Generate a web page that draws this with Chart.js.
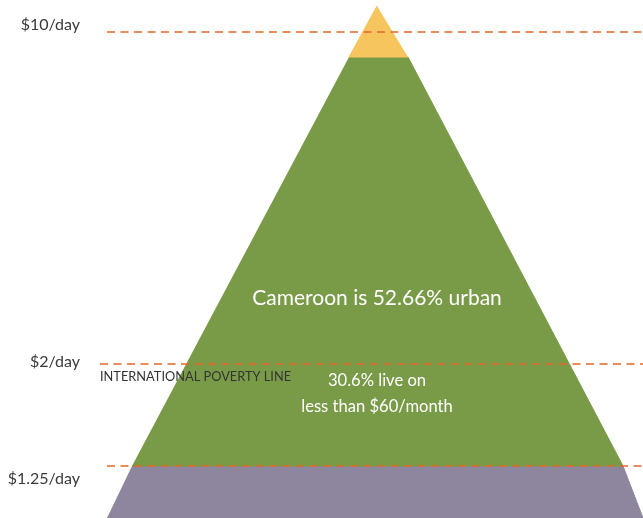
<!DOCTYPE html>
<html>
<head>
<meta charset="utf-8">
<script src="https://cdn.jsdelivr.net/npm/chart.js@4/dist/chart.umd.min.js"></script>
<style>
  html, body { margin: 0; padding: 0; background: #fff; }
  #wrap { width: 643px; height: 518px; position: relative; }
</style>
</head>
<body>
<div id="wrap"><canvas id="pyramid"></canvas></div>
<script>
// income levels on the left axis and where their dashed lines sit
const levelLabels = ["$10/day", "$2/day", "$1.25/day"];
const labelY = [493, 156, 39];
const lineY = [486, 154, 52];
const lineStartX = [-270, -277, -270];
const lineEndX = 266;

// pyramid bands (x = offset from the apex, y = height above the base)
const topBandX = [0, -28, 31];
const topBandY = [512, 461, 461];
const midBandX = [-28, 31, 246, -245];
const midBandY = [461, 461, 52, 52];
const lowBandX = [-245, 246, 266, -270];
const lowBandY = [52, 52, 0, 0];

const FONT = "Lato, 'Open Sans', sans-serif";
const pts = (xs, ys) => xs.map((x, i) => ({ x: x, y: ys[i] }));

const band = (xs, ys, color) => ({
  data: pts(xs, ys),
  showLine: true,
  fill: "shape",
  backgroundColor: color,
  borderColor: color,
  borderWidth: 1,
  pointRadius: 0,
  order: 2,
});

const dashed = lineY.map((y, i) => ({
  data: [{ x: lineStartX[i], y: y }, { x: lineEndX, y: y }],
  showLine: true,
  fill: false,
  borderColor: "#E3672A",
  borderWidth: 1.5,
  borderDash: [8, 5.5],
  pointRadius: 0,
  order: 1,
}));

// captions inside / beside the pyramid
const notes = {
  id: "notes",
  afterDatasetsDraw(chart) {
    const { ctx, scales: { x, y } } = chart;
    ctx.save();
    ctx.textBaseline = "middle";
    ctx.fillStyle = "#333";
    ctx.textAlign = "left";
    ctx.font = "12.8px " + FONT;
    ctx.fillText("INTERNATIONAL POVERTY LINE", x.getPixelForValue(-277), y.getPixelForValue(141));
    ctx.fillStyle = "#fff";
    ctx.textAlign = "center";
    ctx.font = "21px " + FONT;
    ctx.fillText("Cameroon is 52.66% urban", x.getPixelForValue(0), y.getPixelForValue(220));
    ctx.font = "16.6px " + FONT;
    ctx.fillText("30.6% live on", x.getPixelForValue(0), y.getPixelForValue(137));
    ctx.fillText("less than $60/month", x.getPixelForValue(0), y.getPixelForValue(111));
    ctx.restore();
  },
};

new Chart(document.getElementById("pyramid"), {
  type: "scatter",
  data: {
    datasets: [
      band(topBandX, topBandY, "#F7C55D"),
      band(midBandX, midBandY, "#799B48"),
      band(lowBandX, lowBandY, "#8E869F"),
      ...dashed,
    ],
  },
  options: {
    responsive: true,
    maintainAspectRatio: false,
    animation: false,
    layout: { padding: 0 },
    plugins: { legend: { display: false }, tooltip: { enabled: false } },
    scales: {
      x: { type: "linear", display: false, min: -287, max: 266 },
      y: {
        type: "linear",
        min: 0,
        max: 518,
        grid: { display: false },
        border: { display: false },
        ticks: {
          padding: 2,
          color: "#3a3a3a",
          font: { family: FONT, size: 16 },
          callback: (v) => levelLabels[labelY.indexOf(v)],
        },
        afterBuildTicks: (s) => { s.ticks = labelY.map((v) => ({ value: v })); },
        afterFit: (s) => { s.width = 90; s.paddingTop = 0; s.paddingBottom = 0; },
      },
    },
  },
  plugins: [notes],
});
</script>
</body>
</html>
